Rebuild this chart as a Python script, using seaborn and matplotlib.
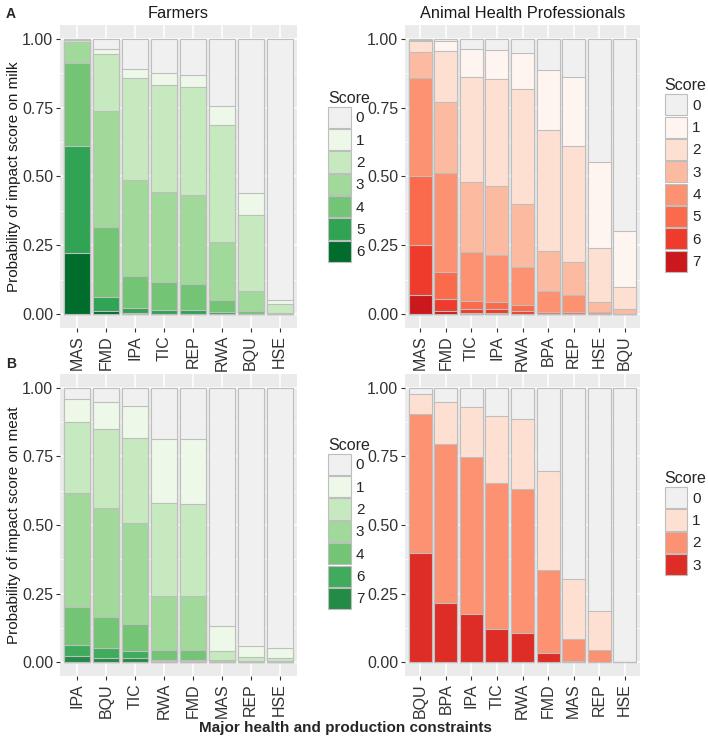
import matplotlib
matplotlib.use("Agg")
import matplotlib.pyplot as plt
from matplotlib.patches import Patch
from matplotlib.ticker import MultipleLocator, FormatStrFormatter
import seaborn as sns

# ---- data: probability of each impact score ----
# rows follow the score list, columns follow the constraint list

farm_milk_cats = ["MAS", "FMD", "IPA", "TIC", "REP", "RWA", "BQU", "HSE"]
farm_milk_scores = [0, 1, 2, 3, 4, 5, 6]
farm_milk_probs = [
    [0.001, 0.039, 0.109, 0.124, 0.132, 0.245, 0.561, 0.948],
    [0.002, 0.016, 0.033, 0.043, 0.044, 0.068, 0.080, 0.014],
    [0.009, 0.209, 0.371, 0.388, 0.392, 0.426, 0.274, 0.032],
    [0.075, 0.420, 0.350, 0.329, 0.322, 0.209, 0.075, 0.006],
    [0.301, 0.254, 0.115, 0.099, 0.094, 0.045, 0.008, 0.000],
    [0.390, 0.052, 0.019, 0.015, 0.014, 0.006, 0.002, 0.000],
    [0.222, 0.010, 0.003, 0.002, 0.002, 0.001, 0.000, 0.000],
]

ahp_milk_cats = ["MAS", "FMD", "TIC", "IPA", "RWA", "BPA", "REP", "HSE", "BQU"]
ahp_milk_scores = [0, 1, 2, 3, 4, 5, 6, 7]
ahp_milk_probs = [
    [0.003, 0.009, 0.039, 0.041, 0.053, 0.112, 0.139, 0.447, 0.699],
    [0.007, 0.036, 0.100, 0.104, 0.129, 0.221, 0.251, 0.313, 0.203],
    [0.037, 0.184, 0.380, 0.391, 0.417, 0.437, 0.420, 0.196, 0.080],
    [0.097, 0.258, 0.256, 0.249, 0.229, 0.144, 0.121, 0.037, 0.018],
    [0.355, 0.360, 0.177, 0.170, 0.138, 0.078, 0.061, 0.007, 0.000],
    [0.249, 0.098, 0.028, 0.027, 0.023, 0.006, 0.006, 0.000, 0.000],
    [0.183, 0.042, 0.016, 0.014, 0.009, 0.002, 0.002, 0.000, 0.000],
    [0.069, 0.013, 0.004, 0.004, 0.002, 0.000, 0.000, 0.000, 0.000],
]

farm_meat_cats = ["IPA", "BQU", "TIC", "RWA", "FMD", "MAS", "REP", "HSE"]
farm_meat_scores = [0, 1, 2, 3, 4, 6, 7]
farm_meat_probs = [
    [0.042, 0.053, 0.066, 0.186, 0.186, 0.868, 0.939, 0.947],
    [0.084, 0.097, 0.117, 0.235, 0.238, 0.090, 0.041, 0.036],
    [0.259, 0.289, 0.309, 0.337, 0.334, 0.034, 0.014, 0.012],
    [0.412, 0.395, 0.368, 0.197, 0.197, 0.008, 0.006, 0.005],
    [0.140, 0.115, 0.099, 0.037, 0.037, 0.000, 0.000, 0.000],
    [0.042, 0.034, 0.026, 0.005, 0.005, 0.000, 0.000, 0.000],
    [0.021, 0.017, 0.015, 0.003, 0.003, 0.000, 0.000, 0.000],
]

ahp_meat_cats = ["BQU", "BPA", "IPA", "TIC", "RWA", "FMD", "MAS", "REP", "HSE"]
ahp_meat_scores = [0, 1, 2, 3]
ahp_meat_probs = [
    [0.023, 0.053, 0.069, 0.103, 0.113, 0.303, 0.698, 0.812, 1.000],
    [0.074, 0.152, 0.182, 0.243, 0.257, 0.361, 0.217, 0.143, 0.000],
    [0.506, 0.578, 0.573, 0.534, 0.522, 0.303, 0.082, 0.044, 0.000],
    [0.397, 0.217, 0.176, 0.120, 0.108, 0.033, 0.003, 0.001, 0.000],
]

# palettes (score 0 is grey)
farm_milk_pal = ["#F0F0F0", "#EDF8E9", "#C7E9C0", "#A1D99B", "#74C476", "#31A354", "#006D2C"]
ahp_milk_pal = ["#F0F0F0", "#FFF5F0", "#FEE0D2", "#FCBBA1", "#FC9272", "#FB6A4A", "#EF3B2C", "#CB181D"]
farm_meat_pal = ["#F0F0F0", "#EDF8E9", "#C7E9C0", "#A1D99B", "#74C476", "#41AB5D", "#238B45"]
ahp_meat_pal = ["#F0F0F0", "#FEE0D2", "#FC9272", "#DE2D26"]

EDGE = "#BEBEBE"

sns.set_style("darkgrid", {"axes.facecolor": "#EBEBEB", "grid.color": "white"})
plt.rcParams["font.family"] = ["Liberation Sans", "DejaVu Sans"]

fig = plt.figure(figsize=(7.08, 7.40), dpi=100)


def draw_panel(ax, cats, scores, probs, pal, ylabel, title, leg_pos):
    # stacked look: overlay bars of P(score >= k), tallest first
    for i in range(len(scores)):
        heights = [sum(row[j] for row in probs[i:]) for j in range(len(cats))]
        sns.barplot(x=cats, y=heights, order=cats, color=pal[i], saturation=1,
                    width=0.9, edgecolor=EDGE, linewidth=0.8, errorbar=None, ax=ax)
    ax.set_xlim(-0.6, len(cats) - 0.4)
    ax.set_ylim(-0.05, 1.05)
    ax.yaxis.set_major_locator(MultipleLocator(0.25))
    ax.yaxis.set_minor_locator(MultipleLocator(0.125))
    ax.yaxis.set_major_formatter(FormatStrFormatter("%.2f"))
    ax.set_axisbelow(True)
    ax.grid(which="major", color="white", linewidth=1.1)
    ax.grid(which="minor", axis="y", color="white", linewidth=0.55)
    for s in ax.spines.values():
        s.set_visible(False)
    ax.tick_params(which="major", length=3, width=0.8, color="#333333",
                   labelsize=11.5, labelcolor="#333333", pad=2, left=True, bottom=True)
    ax.tick_params(which="minor", length=0)
    ax.tick_params(axis="x", labelrotation=90)
    ax.set_xlabel("")
    ax.set_ylabel(ylabel, fontsize=11, color="#1A1A1A", labelpad=1)
    if title:
        ax.set_title(title, fontsize=11.8, color="#1A1A1A", pad=5)
    handles = [Patch(facecolor=c, edgecolor=EDGE, linewidth=0.8, label=str(s))
               for s, c in zip(scores, pal)]
    fig.legend(handles=handles, title="Score", loc="upper left", bbox_to_anchor=leg_pos,
               frameon=False, fontsize=11, title_fontsize=11.5, handlelength=1.45,
               handleheight=1.75, labelspacing=0.08, handletextpad=0.35, borderpad=0,
               alignment="left")


ax1 = fig.add_axes([0.0847, 0.5568, 0.3347, 0.4095])
ax2 = fig.add_axes([0.5720, 0.5568, 0.3320, 0.4095])
ax3 = fig.add_axes([0.0847, 0.0865, 0.3347, 0.4081])
ax4 = fig.add_axes([0.5720, 0.0865, 0.3320, 0.4081])

draw_panel(ax1, farm_milk_cats, farm_milk_scores, farm_milk_probs, farm_milk_pal,
           "Probability of impact score on milk", "Farmers", (0.453, 0.888))
draw_panel(ax2, ahp_milk_cats, ahp_milk_scores, ahp_milk_probs, ahp_milk_pal,
           "", "Animal Health Professionals", (0.928, 0.905))
draw_panel(ax3, farm_meat_cats, farm_meat_scores, farm_meat_probs, farm_meat_pal,
           "Probability of impact score on meat", None, (0.453, 0.419))
draw_panel(ax4, ahp_meat_cats, ahp_meat_scores, ahp_meat_probs, ahp_meat_pal,
           "", None, (0.928, 0.374))

fig.text(0.008, 0.990, "A", fontsize=10, fontweight="bold", va="top")
fig.text(0.008, 0.517, "B", fontsize=10, fontweight="bold", va="top")
fig.text(0.488, 0.016, "Major health and production constraints", fontsize=11,
         fontweight="bold", ha="center", va="center")

fig.savefig("out.png", dpi=100)
